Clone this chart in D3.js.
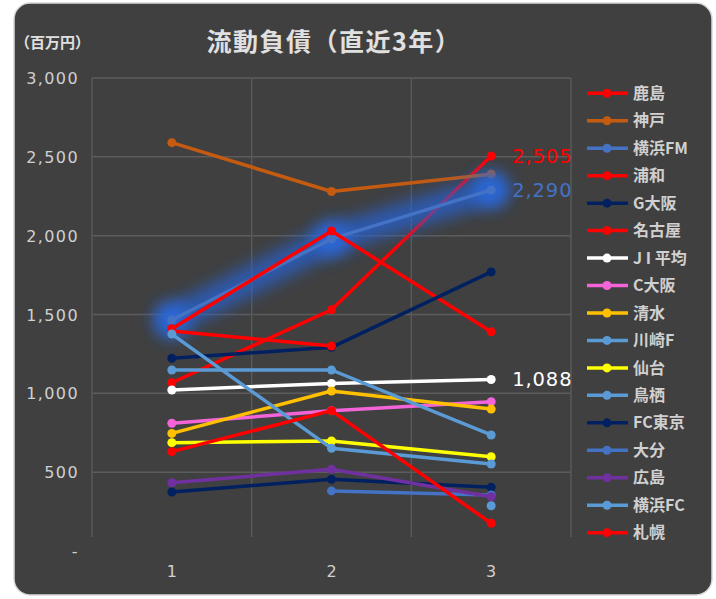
<!DOCTYPE html>
<html><head><meta charset="utf-8">
<script src="https://cdn.jsdelivr.net/npm/d3@7"></script>
<style>body{margin:0;background:#fff}svg{display:block}</style>
</head><body>
<script>
const categories = ["1", "2", "3"];
const yTicks = [0, 500, 1000, 1500, 2000, 2500, 3000];
const seriesNames = ["鹿島","神戸","横浜FM","浦和","G大阪","名古屋","JI平均","C大阪","清水","川崎F","仙台","鳥栖","FC東京","大分","広島","横浜FC","札幌"];
const seriesColors = ["#FF0000","#C55A11","#4472C4","#FF0000","#002060","#FF0000","#FFFFFF","#F464D9","#FFC000","#5B9BD5","#FFFF00","#5B9BD5","#002060","#4472C4","#7030A0","#5B9BD5","#FF0000"];
const v鹿島 = [1067, 1530, 2505];
const v神戸 = [2590, 2280, 2390];
const v横浜FM = [1465, 1980, 2290];
const v浦和 = [1410, 2030, 1390];
const v名古屋 = [1395, 1300, null];
const vG大阪 = [1222, 1292, 1770];
const vJI平均 = [1021, 1063, 1088];
const vC大阪 = [810, 890, 947];
const v清水 = [746, 1015, 900];
const v川崎F = [1148, 1148, 736];
const v仙台 = [687, 698, 598];
const v鳥栖 = [1376, 651, 552];
const vFC東京 = [374, 455, 404];
const v大分 = [null, 381, 355];
const v広島 = [433, 518, 344];
const v横浜FC = [null, null, 287];
const v札幌 = [630, 890, 176];
const seriesValues = [v鹿島,v神戸,v横浜FM,v浦和,vG大阪,v名古屋,vJI平均,vC大阪,v清水,v川崎F,v仙台,v鳥栖,vFC東京,v大分,v広島,v横浜FC,v札幌];
const dataLabels = [{s:"鹿島", text:"2,505", color:"#FF0000"},{s:"横浜FM", text:"2,290", color:"#4472C4"},{s:"JI平均", text:"1,088", color:"#FFFFFF"}];

const W = 716, H = 599;
const svg = d3.select("body").append("svg").attr("width", W).attr("height", H);
const defs = svg.append("defs");
defs.append("filter").attr("id","glow").attr("x","-50%").attr("y","-50%").attr("width","200%").attr("height","200%")
  .append("feGaussianBlur").attr("stdDeviation", 8);

svg.append("rect").attr("x",14).attr("y",3).attr("width",698).attr("height",592).attr("rx",16)
  .attr("fill","#404040").attr("stroke","#d9d9d9").attr("stroke-width",1.5);

const x = d3.scaleBand().domain(categories).range([92, 571]);
const y = d3.scaleLinear().domain([0, 3000]).range([551, 78]);
const cx = d => x(d) + x.bandwidth()/2;

// gridlines
const grid = svg.append("g");
grid.selectAll("line.h").data(yTicks.filter(t => t > 0)).join("line")
  .attr("x1", 92).attr("x2", 571).attr("y1", d => y(d)).attr("y2", d => y(d))
  .attr("stroke", "#5c5c5c").attr("stroke-width", 1.5);
const vb = categories.map(c => x(c)).concat([x.range()[1]]);
grid.selectAll("line.v").data(vb).join("line")
  .attr("x1", d => d).attr("x2", d => d).attr("y1", 78).attr("y2", 537)
  .attr("stroke", "#595959").attr("stroke-width", 1.5);

const numFont = "'DejaVu Sans', sans-serif";
const cjkFont = "'Noto Sans CJK JP', sans-serif";

// y axis
const yAxis = d3.axisLeft(y).tickValues(yTicks).tickSize(0).tickPadding(0)
  .tickFormat(d => d === 0 ? "-" : d3.format(",")(d));
const ya = svg.append("g").attr("transform", "translate(79,0)").call(yAxis);
ya.select(".domain").remove();
ya.selectAll("text").attr("fill", "#d0d0d0").attr("font-size", 16).attr("font-family", numFont)
  .attr("letter-spacing", 1.4).attr("dy", "0.35em");

// x axis
const xAxis = d3.axisBottom(x).tickSize(0).tickPadding(0);
const xa = svg.append("g").attr("transform", "translate(0,566)").call(xAxis);
xa.select(".domain").remove();
xa.selectAll("text").attr("fill", "#d0d0d0").attr("font-size", 16).attr("font-family", numFont);

// series
const line = d3.line().defined(d => d.v != null).x(d => cx(d.c)).y(d => y(d.v));
seriesNames.forEach((name, i) => {
  const pts = categories.map((c, j) => ({c, v: seriesValues[i][j]}));
  const g = svg.append("g");
  if (name === "横浜FM") {
    g.append("path").datum(pts).attr("d", line).attr("fill","none")
      .attr("stroke","#2563d8").attr("stroke-width", 28).attr("stroke-linecap","round")
      .attr("opacity", 0.72).attr("filter","url(#glow)");
    g.selectAll("circle.glow").data(pts.filter(d => d.v != null)).join("circle")
      .attr("cx", d => cx(d.c)).attr("cy", d => y(d.v)).attr("r", 18)
      .attr("fill", "#2a6ae0").attr("opacity", 0.85).attr("filter","url(#glow)");
  }
  g.append("path").datum(pts).attr("d", line).attr("fill","none")
    .attr("stroke", seriesColors[i]).attr("stroke-width", 3.5).attr("stroke-linejoin","round");
  g.selectAll("circle.m").data(pts.filter(d => d.v != null)).join("circle")
    .attr("cx", d => cx(d.c)).attr("cy", d => y(d.v)).attr("r", 4.5)
    .attr("fill", seriesColors[i]);
});

// data labels
dataLabels.forEach(l => {
  const i = seriesNames.indexOf(l.s);
  const v = seriesValues[i][2];
  svg.append("text").attr("x", cx("3") + 21).attr("y", y(v)).attr("dy","0.35em")
    .attr("fill", l.color).attr("font-size", 19.5).attr("font-family", numFont).attr("letter-spacing", 0.9)
    .text(l.text);
});

// legend
const lg = svg.append("g");
seriesNames.forEach((name, i) => {
  const yy = 93.3 + i * 27.46;
  lg.append("line").attr("x1", 587).attr("x2", 628).attr("y1", yy).attr("y2", yy)
    .attr("stroke", seriesColors[i]).attr("stroke-width", 3.5);
  lg.append("circle").attr("cx", 607).attr("cy", yy).attr("r", 4.5).attr("fill", seriesColors[i]);
  lg.append("text").attr("x", 633).attr("y", yy).attr("dy", "0.35em")
    .attr("fill", "#d0d0d0").attr("font-size", 16).attr("font-family", cjkFont).attr("font-weight", 700)
    .text(name === "JI平均" ? "J I 平均" : name);
});

// title & unit
svg.append("text").attr("x", 334).attr("y", 42).attr("dy","0.35em").attr("text-anchor","middle")
  .attr("fill","#e0e0e0").attr("font-size", 25).attr("font-family", cjkFont).attr("font-weight", 700)
  .attr("letter-spacing", 1.5)
  .text("流動負債（直近3年）");
svg.append("text").attr("x", 15).attr("y", 43).attr("dy","0.35em")
  .attr("fill","#e0e0e0").attr("font-size", 15).attr("font-family", cjkFont).attr("font-weight", 700)
  .text("（百万円）");
</script>
</body></html>
